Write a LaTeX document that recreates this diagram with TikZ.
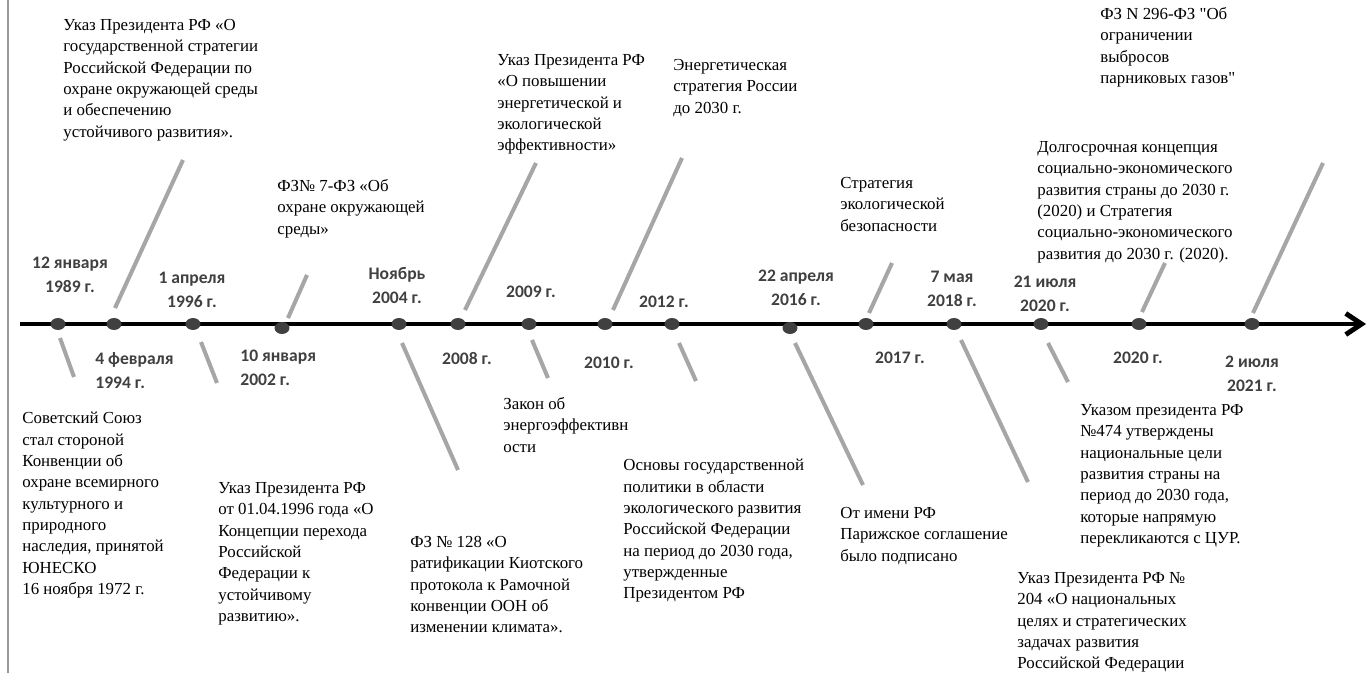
\documentclass[tikz,border=0pt]{standalone}
\usepackage{fontspec}
\setmainfont{Liberation Serif}[Ligatures=TeXOff]
\newfontfamily\datesans{Carlito}
\usepackage{tikz}
\usetikzlibrary{shapes.geometric}
\usetikzlibrary{arrows.meta}

\newcommand\evfont{\fontsize{9.6}{12.15}\selectfont}
\newcommand\datefont{\datesans\bfseries\fontsize{10}{13.6}\selectfont}

\tikzset{
	dot/.style={ellipse,fill=black!75,minimum width=8.5pt,minimum height=6.8pt,inner sep=0},
	stick/.style={line width=2.3pt,black!35},
	event/.style={anchor=north west,align=left,inner sep=0,font=\evfont,text=black},
	when/.style={anchor=north,align=center,inner sep=0,font=\datefont,text=black!75},
	whenleft/.style={when,anchor=north west,align=left}
}

\begin{document}
\begin{tikzpicture}[x=0.02cm,y=-0.02cm]

	\useasboundingbox (0,0) rectangle (1369,673);
	\draw [black!40,line width=0.8pt] (8,0) -- (8,673);

	%% Timeline %%
	\coordinate (tl0) at (20,324);
	\coordinate (tl1) at (1366,324);
	\draw [line width=2.8pt,-{Straight Barb[length=9pt,width=12pt]}] (tl0) -- (tl1);
	\foreach \n/\x/\y in {1/58/324, 2/114/324, 3/193/324, 4/282/328, 5/399/324, 6/458/324, 7/529/324, 8/605/324, 9/672/324, 10/790/328, 11/866/324, 12/954/324, 13/1041/324, 14/1139/324, 15/1252/324}
		\node [dot] (d\n) at (\x,\y) {};

	%% Sticks %%
	\foreach \n/\xa/\ya/\xb/\yb in {2/115/308/183/160, 4/288/318/307/275, 6/465/310/536/163, 8/613/310/682/158, 11/869/313/892/263, 14/1142/312/1165/263, 15/1253/313/1323/163, 1/60/338/74/377, 3/201/342/217/383, 5/402/343/458/470, 7/532/340/548/378, 9/679/343/696/381, 10/795/343/863/485, 12/961/340/1028/482, 13/1048/343/1068/382}
	{
		\coordinate (s\n) at (\xa,\ya);
		\coordinate (e\n) at (\xb,\yb);
		\draw [stick] (s\n) -- (e\n);
	}

	%% Dates %%
	\node [when] (w1) at (70,257) {12 января\\1989 г.};
	\node [whenleft] (w2) at (95,352) {4 февраля\\1994 г.};
	\node [when] (w3) at (192,272) {1 апреля\\1996 г.};
	\node [whenleft] (w4) at (240,350) {10 января\\2002 г.};
	\node [when] (w5) at (397,267) {Ноябрь\\2004 г.};
	\node [when] (w6) at (467,352) {2008 г.};
	\node [when] (w7) at (531,286) {2009 г.};
	\node [when] (w8) at (609,357) {2010 г.};
	\node [when] (w9) at (664,296) {2012 г.};
	\node [when] (w10) at (796,270) {22 апреля\\2016 г.};
	\node [when] (w11) at (900,352) {2017 г.};
	\node [when] (w12) at (952,271) {7 мая\\2018 г.};
	\node [when] (w13) at (1045,276) {21 июля\\2020 г.};
	\node [when] (w14) at (1138,352) {2020 г.};
	\node [when] (w15) at (1252,356) {2 июля\\2021 г.};

	%% Events above %%
	\node [event] (ev2) at (63,19) {Указ Президента РФ «О\\государственной стратегии\\Российской Федерации по\\охране окружающей среды\\и обеспечению\\устойчивого развития».};
	\node [event] (ev4) at (277,179) {ФЗ№ 7-ФЗ «Об\\охране окружающей\\среды»};
	\node [event] (ev6) at (497,54) {Указ Президента РФ\\«О повышении\\энергетической и\\экологической\\эффективности»};
	\node [event] (ev8) at (673,59) {Энергетическая\\стратегия России\\до 2030 г.};
	\node [event] (ev11) at (840,177) {Стратегия\\экологической\\безопасности};
	\node [event] (ev14) at (1037,141) {Долгосрочная концепция\\социально-экономического\\развития страны до 2030 г.\\(2020) и Стратегия\\социально-экономического\\развития до 2030 г. (2020).};
	\node [event] (ev15) at (1100,7) {ФЗ N 296-ФЗ "Об\\ограничении\\выбросов\\парниковых газов"};

	%% Events below %%
	\node [event] (ev1) at (22,412) {Советский Союз\\стал стороной\\Конвенции об\\охране всемирного\\культурного и\\природного\\наследия, принятой\\ЮНЕСКО\\16 ноября 1972 г.};
	\node [event] (ev3) at (218,482) {Указ Президента РФ\\от 01.04.1996 года «О\\Концепции перехода\\Российской\\Федерации к\\устойчивому\\развитию».};
	\node [event] (ev5) at (410,536) {ФЗ № 128 «О\\ратификации Киотского\\протокола к Рамочной\\конвенции ООН об\\изменении климата».};
	\node [event] (ev7) at (503,397) {Закон об\\энергоэффективн\\ости};
	\node [event] (ev9) at (623,459) {Основы государственной\\политики в области\\экологического развития\\Российской Федерации\\на период до 2030 года,\\утвержденные\\Президентом РФ};
	\node [event] (ev10) at (840,507) {От имени РФ\\Парижское соглашение\\было подписано};
	\node [event] (ev13) at (1080,404) {Указом президента РФ\\№474 утверждены\\национальные цели\\развития страны на\\период до 2030 года,\\которые напрямую\\перекликаются с ЦУР.};
	\node [event] (ev12) at (1017,572) {Указ Президента РФ №\\204 «О национальных\\целях и стратегических\\задачах развития\\Российской Федерации};

\end{tikzpicture}
\end{document}
